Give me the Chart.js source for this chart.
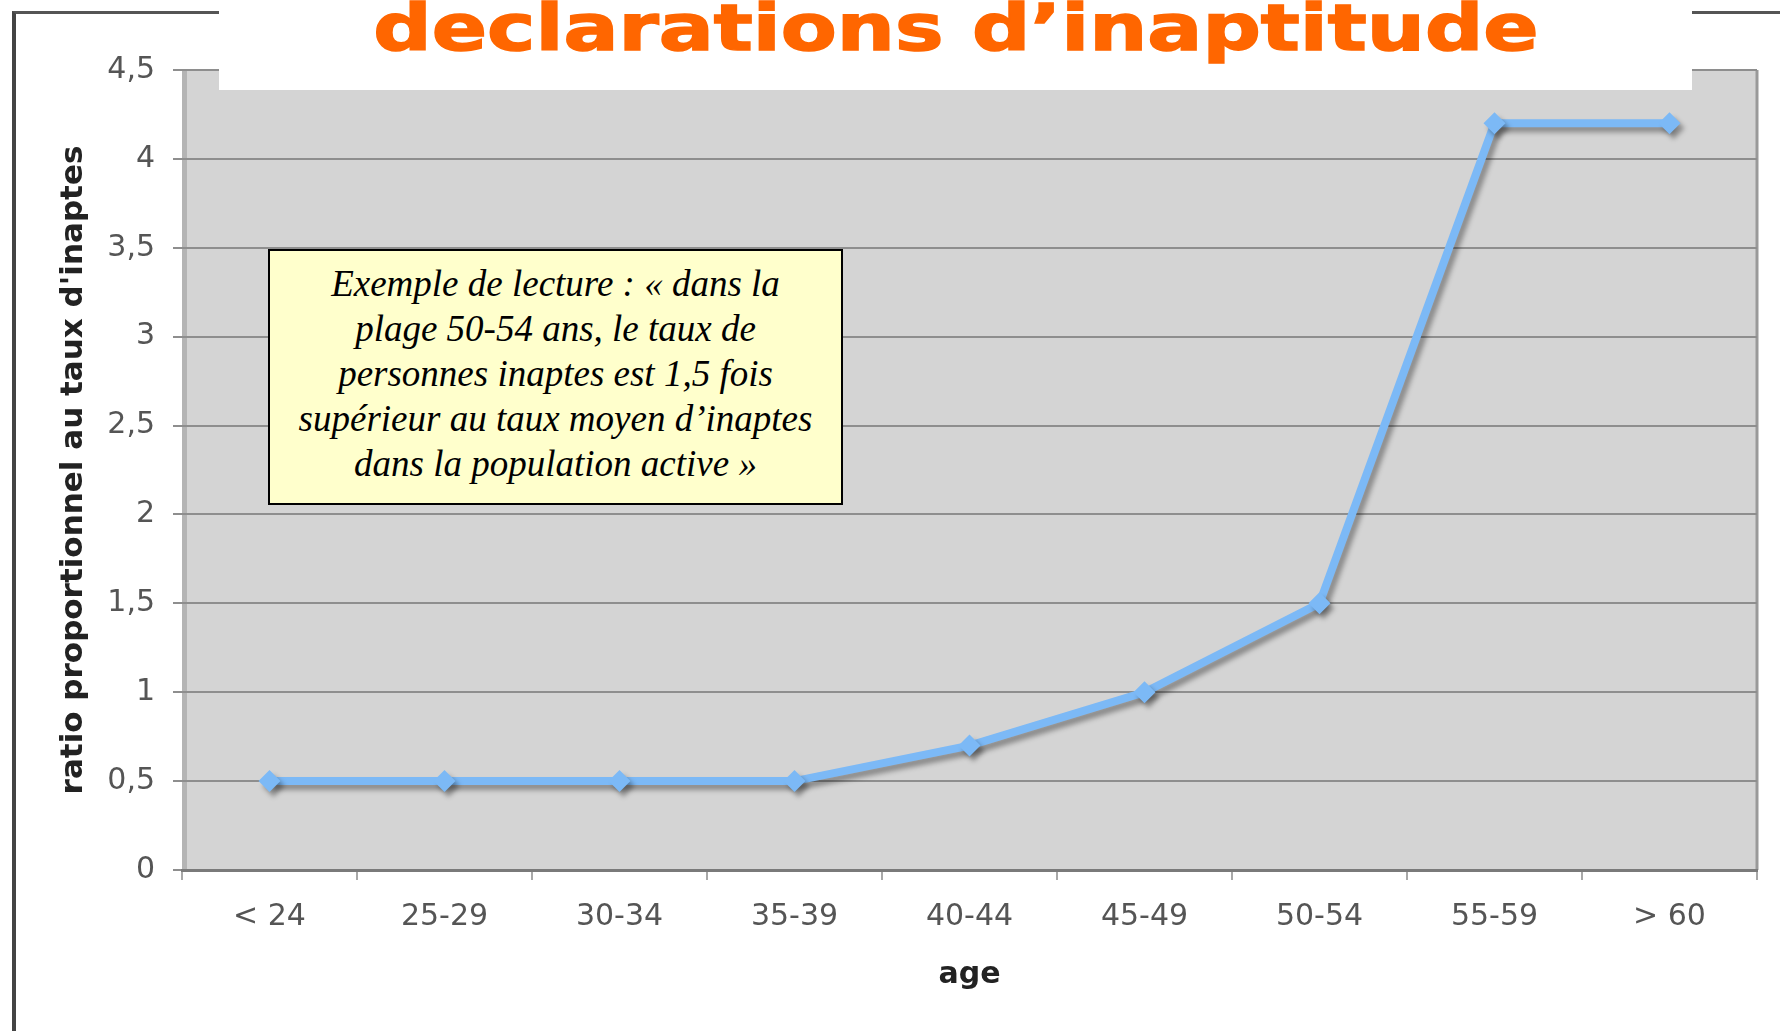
<!DOCTYPE html>
<html>
<head>
<meta charset="utf-8">
<script src="https://cdn.jsdelivr.net/npm/chart.js@4.4.0/dist/chart.umd.min.js"></script>
<style>
  body { margin: 0; background: #fff; }
  #wrap { position: relative; width: 1780px; height: 1031px; overflow: hidden; }
  #frame {
    position: absolute; left: 12px; top: 11px; width: 1800px; height: 1017px;
    border-left: 4px solid #444; border-top: 3px solid #555; border-bottom: 2px solid #bbb;
  }
  #chartBox { position: absolute; left: 0; top: 0; width: 1780px; height: 1031px; }
  #titleBox {
    position: absolute; left: 219px; top: 0; width: 1473px; height: 90px;
    background: #fff; overflow: hidden; text-align: center;
  }
  #titleBox span {
    display: inline-block; position: relative; top: -4px;
    font: bold 64px "DejaVu Sans"; line-height: 64px; color: #ff6600;
    -webkit-text-stroke: 1.5px #ff6600;
    transform: scaleX(1.275); white-space: nowrap;
  }
  #note {
    position: absolute; left: 268px; top: 249px; width: 571px; height: 242px;
    border: 2px solid #000; background: #ffffcc; text-align: center;
    font: italic 37px "Liberation Serif"; line-height: 45px; padding-top: 10px;
    box-sizing: content-box; white-space: nowrap; color: #000;
  }
</style>
</head>
<body>
<div id="wrap">
  <div id="frame"></div>
  <div id="chartBox"><canvas id="lineChart"></canvas></div>
  <div id="titleBox"><span>declarations d’inaptitude</span></div>
  <div id="note">Exemple de lecture : « dans la<br>plage 50-54 ans, le taux de<br>personnes inaptes est 1,5 fois<br>supérieur au taux moyen d’inaptes<br>dans la population active »</div>
</div>
<script>
const ageLabels = ['< 24', '25-29', '30-34', '35-39', '40-44', '45-49', '50-54', '55-59', '> 60'];
const ratioValues = [0.5, 0.5, 0.5, 0.5, 0.7, 1, 1.5, 4.2, 4.2];
const yTicks = [0, 0.5, 1, 1.5, 2, 2.5, 3, 3.5, 4, 4.5];
const yTitle = "ratio proportionnel au taux d'inaptes";
const xTitle = 'age';

// grey plot background + right border
const plotBackground = {
  id: 'plotBackground',
  beforeDraw(chart) {
    let { ctx, chartArea: a } = chart;
    ctx.save();
    ctx.fillStyle = '#d4d4d4';
    ctx.fillRect(a.left, a.top, a.right - a.left, a.bottom - a.top);
    ctx.fillStyle = '#b4b4b4';
    ctx.fillRect(a.left, a.top, 5, a.bottom - a.top);
    ctx.strokeStyle = '#999';
    ctx.lineWidth = 3;
    ctx.beginPath();
    ctx.moveTo(a.right, a.top);
    ctx.lineTo(a.right, a.bottom);
    ctx.stroke();
    ctx.restore();
  },
};

// soft drop shadow under the line
const lineShadow = {
  id: 'lineShadow',
  beforeDatasetsDraw(chart) {
    let ctx = chart.ctx;
    ctx.save();
    ctx.shadowColor = 'rgba(0, 0, 0, 0.35)';
    ctx.shadowOffsetX = 4;
    ctx.shadowOffsetY = 5;
    ctx.shadowBlur = 5;
  },
  afterDatasetsDraw(chart) {
    chart.ctx.restore();
  },
};

let ctxL = document.getElementById('lineChart').getContext('2d');
let myLineChart = new Chart(ctxL, {
  type: 'line',
  data: {
    labels: ageLabels,
    datasets: [
      {
        data: ratioValues,
        borderColor: '#7cb9f6',
        backgroundColor: '#7cb9f6',
        borderWidth: 8,
        pointStyle: 'rectRot',
        pointRadius: 11,
        pointBorderWidth: 0,
        tension: 0,
      },
    ],
  },
  options: {
    responsive: true,
    maintainAspectRatio: false,
    animation: false,
    layout: { padding: { top: 70, right: 23, left: 0, bottom: 0 } },
    plugins: { legend: { display: false }, tooltip: { enabled: false } },
    scales: {
      x: {
        type: 'category',
        offset: true,
        grid: { display: true, offset: true, drawOnChartArea: false, drawTicks: true, tickLength: 10, color: '#a8a8a8', lineWidth: 2 },
        border: { display: true, color: '#7a7a7a', width: 3 },
        ticks: { color: '#555', font: { family: 'DejaVu Sans', size: 30 }, padding: 19, maxRotation: 0, autoSkip: false },
        title: { display: true, text: xTitle, color: '#222', font: { family: 'DejaVu Sans', size: 30, weight: 'bold' }, padding: { top: 0, bottom: 38 } },
        afterFit(scale) { scale.height = 161; },
      },
      y: {
        min: 0,
        max: 4.5,
        afterBuildTicks(scale) { scale.ticks = yTicks.map((v) => ({ value: v })); },
        grid: { color: '#8e8e8e', lineWidth: 2, tickLength: 9, drawTicks: true },
        border: { display: false },
        ticks: { color: '#555', font: { family: 'DejaVu Sans', size: 30 }, padding: 18, callback: (v) => String(v).replace('.', ',') },
        title: { display: true, text: yTitle, color: '#222', font: { family: 'DejaVu Sans', size: 31, weight: 'bold' }, padding: { top: 55, bottom: 0 } },
        afterFit(scale) { scale.width = 182; },
      },
    },
  },
  plugins: [plotBackground, lineShadow],
});
</script>
</body>
</html>
